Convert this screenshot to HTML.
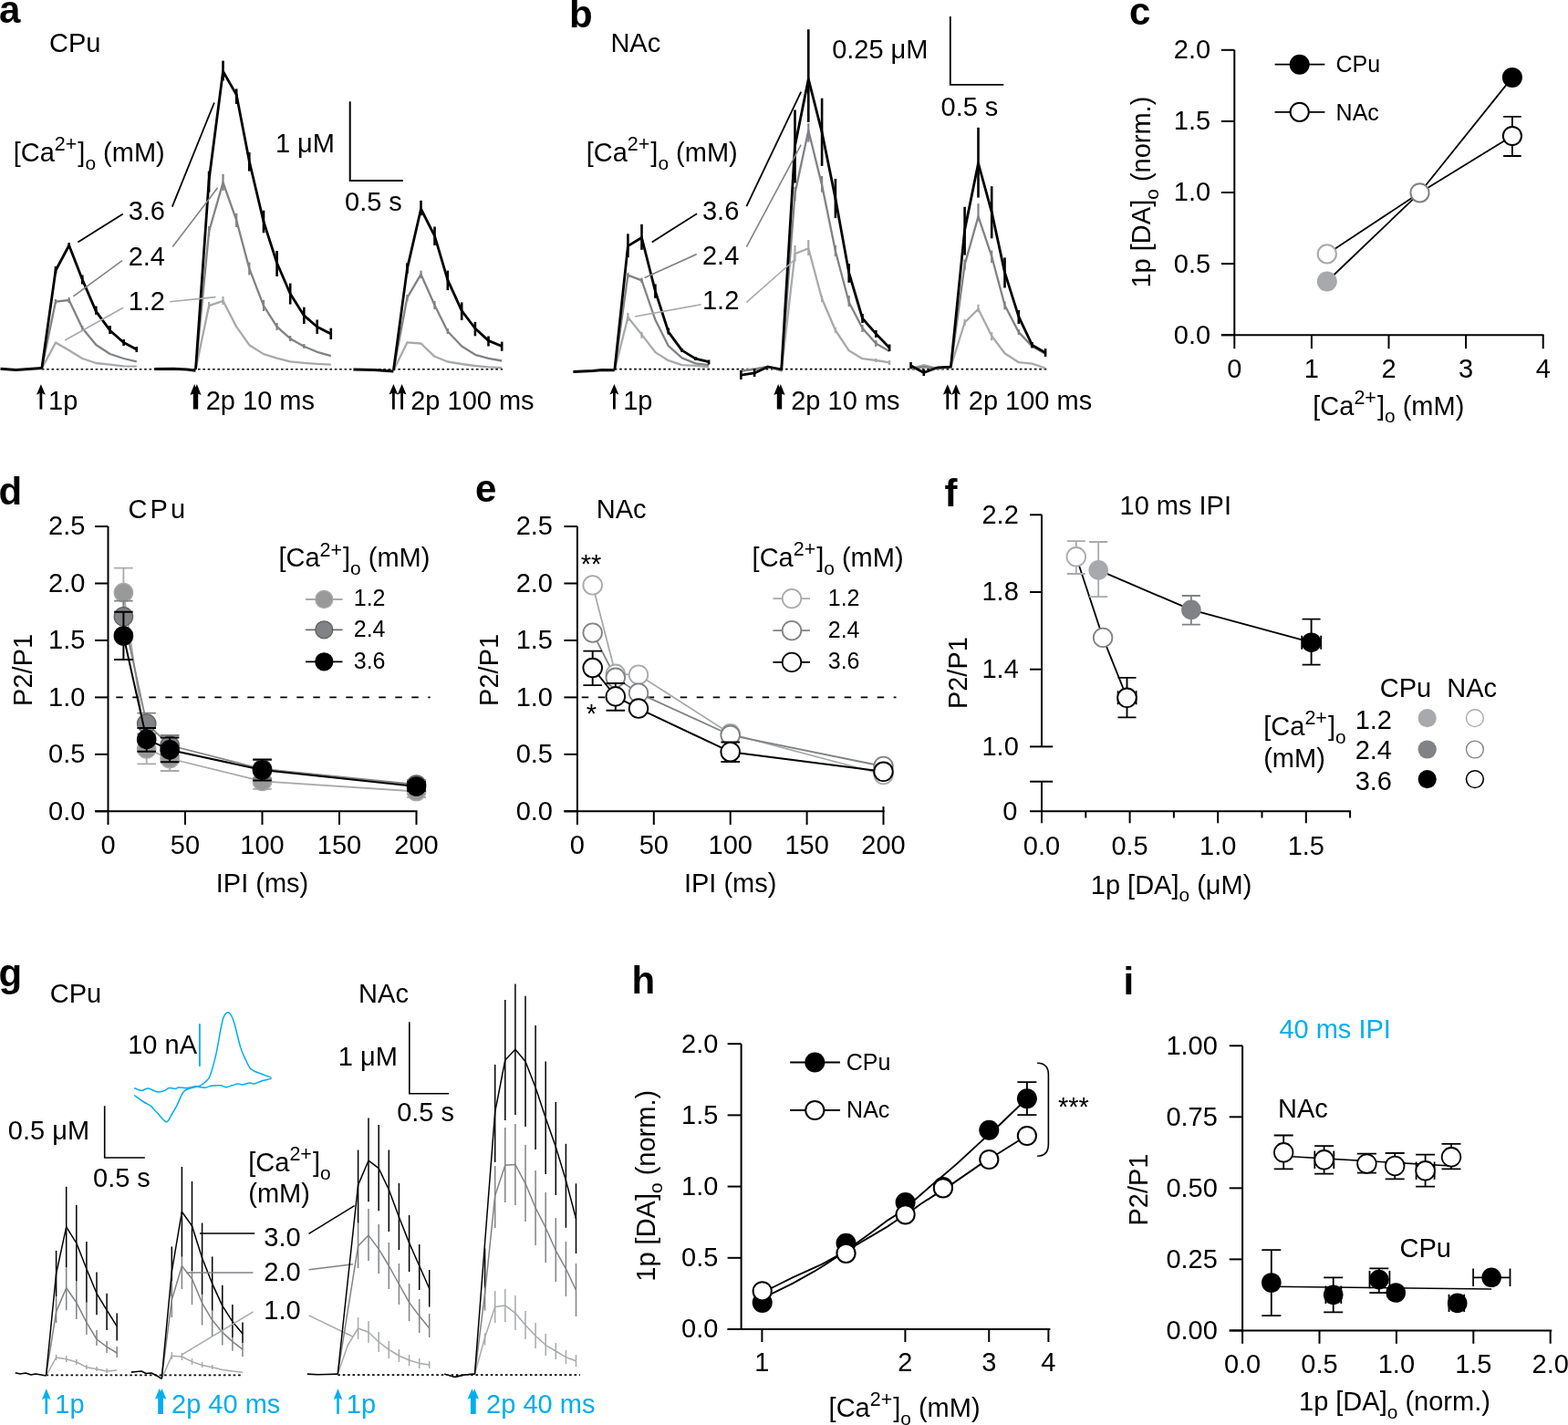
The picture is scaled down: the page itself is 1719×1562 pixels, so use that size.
<!DOCTYPE html>
<html><head><meta charset="utf-8"><title>Figure</title>
<style>
html,body{margin:0;padding:0;background:#fff;}
body{width:1719px;height:1562px;overflow:hidden;}
svg{display:block;}
text{font-family:"Liberation Sans",Arial,Helvetica,sans-serif;}
</style></head><body>
<svg width="1719" height="1562" viewBox="0 0 1719 1562" font-family="Liberation Sans, Arial, sans-serif" font-size="29" fill="#000">
<rect width="1719" height="1562" fill="#fff"/>
<text x="-1" y="24.6" font-size="42" font-weight="bold">a</text>
<text x="54" y="57">CPu</text>
<text x="14.7" y="177.3">[Ca<tspan font-size="21.46" dy="-11.89">2+</tspan><tspan dx="1.02" dy="11.89">]</tspan><tspan font-size="20.88" dy="8.7">o</tspan><tspan dy="-8.7"> (mM)</tspan></text>
<line x1="45.8" y1="404.8" x2="551" y2="404.8" stroke="#000" stroke-width="1.6" stroke-dasharray="2.6 2.75"/>
<polyline points="0.5,404.3 17.5,405.6 45.8,403.6" fill="none" stroke="#000" stroke-width="3" stroke-linejoin="round"/>
<polyline points="45.8,404 61,375.5 75.7,383.9 90.3,393 105.3,398 120.6,399.7 135.6,401.3 149.8,401.7" fill="none" stroke="#a7a9ac" stroke-width="2.3" stroke-linejoin="round"/>
<polyline points="45.8,404 61,330.6 75.7,329 90.3,359.7 105.3,378 120.6,388 135.6,393 149.8,396.3" fill="none" stroke="#808285" stroke-width="2.3" stroke-linejoin="round"/>
<line x1="61" y1="328" x2="61" y2="333" stroke="#808285" stroke-width="2.2"/>
<line x1="75.7" y1="326" x2="75.7" y2="332" stroke="#808285" stroke-width="2.2"/>
<line x1="90.3" y1="357" x2="90.3" y2="362" stroke="#808285" stroke-width="2.2"/>
<polyline points="45.8,404 61,296.5 75.7,269 90.3,306.5 105.3,341.4 120.6,362.2 135.6,375.5 149.8,383" fill="none" stroke="#000" stroke-width="2.8" stroke-linejoin="round"/>
<line x1="61" y1="292" x2="61" y2="300" stroke="#000" stroke-width="2.6"/>
<line x1="75.7" y1="266" x2="75.7" y2="272" stroke="#000" stroke-width="2.6"/>
<line x1="90.3" y1="301.5" x2="90.3" y2="311.5" stroke="#000" stroke-width="2.6"/>
<line x1="105.3" y1="335.6" x2="105.3" y2="344.8" stroke="#000" stroke-width="2.6"/>
<line x1="120.6" y1="357" x2="120.6" y2="366" stroke="#000" stroke-width="2.6"/>
<line x1="135.6" y1="372" x2="135.6" y2="379" stroke="#000" stroke-width="2.6"/>
<line x1="149.8" y1="380" x2="149.8" y2="386" stroke="#000" stroke-width="2.6"/>
<line x1="85.4" y1="265.4" x2="134.8" y2="234.6" stroke="#000" stroke-width="1.8"/>
<line x1="80.4" y1="324.8" x2="134" y2="285.7" stroke="#808285" stroke-width="1.6"/>
<line x1="71.2" y1="373" x2="135.1" y2="337.3" stroke="#a7a9ac" stroke-width="1.6"/>
<text x="181" y="240.8" text-anchor="end">3.6</text>
<text x="181" y="290.7" text-anchor="end">2.4</text>
<text x="181" y="339.8" text-anchor="end">1.2</text>
<polyline points="169.2,404.6 190,404.3 205,405 214.5,406.3" fill="none" stroke="#000" stroke-width="3" stroke-linejoin="round"/>
<polyline points="214.5,405 229.1,335.1 244.5,329.8 259.2,358.2 273.3,378.2 289,388.1 303.6,392.7 318.2,396.3 333.3,397.8 347.7,398.9 362.8,399.7" fill="none" stroke="#a7a9ac" stroke-width="2.3" stroke-linejoin="round"/>
<line x1="229.1" y1="331" x2="229.1" y2="339" stroke="#a7a9ac" stroke-width="2.2"/>
<line x1="244.5" y1="325" x2="244.5" y2="334" stroke="#a7a9ac" stroke-width="2.2"/>
<polyline points="214.5,405 229.1,253.7 244.5,200 259.2,241.4 273.3,294.4 289,335.1 303.6,358.2 318.2,371.2 333.3,379.7 347.7,385.8 362.8,390.1" fill="none" stroke="#808285" stroke-width="2.3" stroke-linejoin="round"/>
<line x1="229.1" y1="248" x2="229.1" y2="259" stroke="#808285" stroke-width="2.2"/>
<line x1="244.5" y1="190.8" x2="244.5" y2="209" stroke="#808285" stroke-width="2.2"/>
<line x1="259.2" y1="233.8" x2="259.2" y2="249" stroke="#808285" stroke-width="2.2"/>
<line x1="273.3" y1="287.5" x2="273.3" y2="301.4" stroke="#808285" stroke-width="2.2"/>
<line x1="289" y1="329" x2="289" y2="341" stroke="#808285" stroke-width="2.2"/>
<line x1="303.6" y1="354" x2="303.6" y2="362" stroke="#808285" stroke-width="2.2"/>
<line x1="318.2" y1="368" x2="318.2" y2="374" stroke="#808285" stroke-width="2.2"/>
<line x1="333.3" y1="377" x2="333.3" y2="382" stroke="#808285" stroke-width="2.2"/>
<polyline points="214.5,405 229.1,197.2 244.5,78.2 259.2,103.8 273.3,176.8 289,243 303.6,288.3 318.2,322 333.3,345.9 347.7,358.2 362.8,365.9" fill="none" stroke="#000" stroke-width="2.8" stroke-linejoin="round"/>
<line x1="229.1" y1="187.6" x2="229.1" y2="210.7" stroke="#000" stroke-width="2.6"/>
<line x1="244.5" y1="66.6" x2="244.5" y2="88.4" stroke="#000" stroke-width="2.6"/>
<line x1="259.2" y1="97.4" x2="259.2" y2="114" stroke="#000" stroke-width="2.6"/>
<line x1="273.3" y1="167" x2="273.3" y2="187.6" stroke="#000" stroke-width="2.6"/>
<line x1="289" y1="230.7" x2="289" y2="255.3" stroke="#000" stroke-width="2.6"/>
<line x1="303.6" y1="275" x2="303.6" y2="303" stroke="#000" stroke-width="2.6"/>
<line x1="318.2" y1="310.6" x2="318.2" y2="333.6" stroke="#000" stroke-width="2.6"/>
<line x1="333.3" y1="336.7" x2="333.3" y2="355" stroke="#000" stroke-width="2.6"/>
<line x1="347.7" y1="350.5" x2="347.7" y2="365.9" stroke="#000" stroke-width="2.6"/>
<line x1="362.8" y1="359.7" x2="362.8" y2="372" stroke="#000" stroke-width="2.6"/>
<line x1="188.8" y1="226.7" x2="234.9" y2="112.5" stroke="#000" stroke-width="1.8"/>
<line x1="189.2" y1="270.6" x2="238.6" y2="205.8" stroke="#808285" stroke-width="1.6"/>
<line x1="186.1" y1="330.8" x2="236.5" y2="325.6" stroke="#a7a9ac" stroke-width="1.6"/>
<polyline points="387.4,405.1 410,405.5 431.4,407" fill="none" stroke="#000" stroke-width="3" stroke-linejoin="round"/>
<polyline points="431.4,406 446.4,375.4 461.5,376.5 476.5,390.8 490.8,396.5 506.2,399 520.9,401 535.5,402.3 550.2,403.1" fill="none" stroke="#a7a9ac" stroke-width="2.3" stroke-linejoin="round"/>
<polyline points="431.4,406 446.4,326.3 461.5,300.7 476.5,334.5 490.8,363.2 506.2,379.5 520.9,388.8 535.5,392.9 550.2,395.5" fill="none" stroke="#808285" stroke-width="2.3" stroke-linejoin="round"/>
<line x1="446.4" y1="323" x2="446.4" y2="330" stroke="#808285" stroke-width="2.2"/>
<line x1="461.5" y1="296.6" x2="461.5" y2="305" stroke="#808285" stroke-width="2.2"/>
<line x1="476.5" y1="330" x2="476.5" y2="339" stroke="#808285" stroke-width="2.2"/>
<line x1="490.8" y1="360" x2="490.8" y2="366" stroke="#808285" stroke-width="2.2"/>
<polyline points="431.4,406 446.4,294.6 461.5,229 476.5,258.7 490.8,306.8 506.2,340.6 520.9,360 535.5,373.4 550.2,379.5" fill="none" stroke="#000" stroke-width="2.8" stroke-linejoin="round"/>
<line x1="446.4" y1="288.4" x2="446.4" y2="299.7" stroke="#000" stroke-width="2.6"/>
<line x1="461.5" y1="219.8" x2="461.5" y2="236.2" stroke="#000" stroke-width="2.6"/>
<line x1="476.5" y1="248.5" x2="476.5" y2="269" stroke="#000" stroke-width="2.6"/>
<line x1="490.8" y1="296.6" x2="490.8" y2="318.1" stroke="#000" stroke-width="2.6"/>
<line x1="506.2" y1="331.4" x2="506.2" y2="350.9" stroke="#000" stroke-width="2.6"/>
<line x1="520.9" y1="352.9" x2="520.9" y2="368.3" stroke="#000" stroke-width="2.6"/>
<line x1="535.5" y1="368.5" x2="535.5" y2="379.5" stroke="#000" stroke-width="2.6"/>
<line x1="550.2" y1="374.6" x2="550.2" y2="384.7" stroke="#000" stroke-width="2.6"/>
<path d="M383.7,111.3V197.9H441.7" fill="none" stroke="#000" stroke-width="2"/>
<text x="367" y="166.8" text-anchor="end">1 μM</text>
<text x="378" y="230.7">0.5 s</text>
<line x1="44.9" y1="429.8" x2="44.9" y2="448.6" stroke="#000" stroke-width="2.8"/>
<path d="M44.9,421.3L49.8,432.8L44.9,430.6L40,432.8Z" fill="#000" stroke="none" stroke-width="0"/>
<text x="53" y="448.5">1p</text>
<path d="M213.2,420.9L208.4,432.9L211.8,431.7L211.8,448.5L217.2,448.5L217.2,431.7L220.6,432.9L215.8,420.9L214.5,424.4L213.2,420.9Z" fill="#000" stroke="none" stroke-width="0"/>
<text x="225.7" y="448.5">2p 10 ms</text>
<line x1="431.4" y1="429.6" x2="431.4" y2="448.7" stroke="#000" stroke-width="2.8"/>
<path d="M431.4,421.1L436.3,432.6L431.4,430.4L426.5,432.6Z" fill="#000" stroke="none" stroke-width="0"/>
<line x1="440.6" y1="429.6" x2="440.6" y2="448.7" stroke="#000" stroke-width="2.8"/>
<path d="M440.6,421.1L445.5,432.6L440.6,430.4L435.7,432.6Z" fill="#000" stroke="none" stroke-width="0"/>
<text x="450.2" y="448.5">2p 100 ms</text>
<text x="624.1" y="30.2" font-size="42" font-weight="bold">b</text>
<text x="669.4" y="57.4">NAc</text>
<text x="642.7" y="177.1">[Ca<tspan font-size="21.46" dy="-11.89">2+</tspan><tspan dx="1.02" dy="11.89">]</tspan><tspan font-size="20.88" dy="8.7">o</tspan><tspan dy="-8.7"> (mM)</tspan></text>
<line x1="673.8" y1="404.6" x2="1147.7" y2="404.6" stroke="#000" stroke-width="1.6" stroke-dasharray="2.6 2.75"/>
<polyline points="628.4,407.5 650,406.5 660,405.5 673.8,405.7" fill="none" stroke="#000" stroke-width="3" stroke-linejoin="round"/>
<polyline points="673.8,405.7 688.4,347.7 703.5,366.6 718.4,386.1 732.8,395.2 747.7,400.1 762.4,400.8 777.1,402.2" fill="none" stroke="#a7a9ac" stroke-width="2.3" stroke-linejoin="round"/>
<line x1="688.4" y1="342.9" x2="688.4" y2="352" stroke="#a7a9ac" stroke-width="2.2"/>
<line x1="703.5" y1="363.8" x2="703.5" y2="370.8" stroke="#a7a9ac" stroke-width="2.2"/>
<polyline points="673.8,405.7 688.4,301.7 703.5,307.3 718.4,350.5 732.8,379.2 747.7,392.4 762.4,398.4 777.1,400.1" fill="none" stroke="#808285" stroke-width="2.3" stroke-linejoin="round"/>
<line x1="688.4" y1="298.9" x2="688.4" y2="304.5" stroke="#808285" stroke-width="2.2"/>
<line x1="703.5" y1="304.5" x2="703.5" y2="310" stroke="#808285" stroke-width="2.2"/>
<polyline points="673.8,405.7 688.4,269.6 703.5,260.5 718.4,319.1 732.8,363.8 747.7,384.1 762.4,393.1 777.1,396.6" fill="none" stroke="#000" stroke-width="2.8" stroke-linejoin="round"/>
<line x1="688.4" y1="256.3" x2="688.4" y2="282.1" stroke="#000" stroke-width="2.6"/>
<line x1="703.5" y1="245.8" x2="703.5" y2="273.8" stroke="#000" stroke-width="2.6"/>
<line x1="718.4" y1="311.5" x2="718.4" y2="326.8" stroke="#000" stroke-width="2.6"/>
<line x1="732.8" y1="359.6" x2="732.8" y2="366.6" stroke="#000" stroke-width="2.6"/>
<line x1="747.7" y1="382" x2="747.7" y2="386" stroke="#000" stroke-width="2.6"/>
<line x1="762.4" y1="391" x2="762.4" y2="395" stroke="#000" stroke-width="2.6"/>
<line x1="777.1" y1="394.5" x2="777.1" y2="399.5" stroke="#000" stroke-width="2.6"/>
<line x1="714.7" y1="265.4" x2="764.1" y2="234.2" stroke="#000" stroke-width="1.8"/>
<line x1="706.6" y1="304.5" x2="763.8" y2="278.6" stroke="#808285" stroke-width="1.6"/>
<line x1="696.1" y1="347" x2="768.7" y2="333.8" stroke="#a7a9ac" stroke-width="1.6"/>
<text x="810.3" y="241" text-anchor="end">3.6</text>
<text x="810.3" y="289.8" text-anchor="end">2.4</text>
<text x="810.3" y="339.4" text-anchor="end">1.2</text>
<polyline points="812.3,406.6 827.1,404.6 841.9,402 856.7,406.6 871.5,278.3 886.3,272.2 901.1,327.5 915.9,362 930.7,384.3 945.5,393.2 960.3,395 975.1,397.4" fill="none" stroke="#a7a9ac" stroke-width="2.3" stroke-linejoin="round"/>
<line x1="871.5" y1="269" x2="871.5" y2="286.8" stroke="#a7a9ac" stroke-width="2.2"/>
<line x1="886.3" y1="263" x2="886.3" y2="280" stroke="#a7a9ac" stroke-width="2.2"/>
<line x1="901.1" y1="324" x2="901.1" y2="331" stroke="#a7a9ac" stroke-width="2.2"/>
<line x1="915.9" y1="359" x2="915.9" y2="365" stroke="#a7a9ac" stroke-width="2.2"/>
<line x1="960.3" y1="393" x2="960.3" y2="397" stroke="#a7a9ac" stroke-width="2.2"/>
<line x1="975.1" y1="395" x2="975.1" y2="400" stroke="#a7a9ac" stroke-width="2.2"/>
<polyline points="812.3,406.6 827.1,404.6 841.9,402 856.7,405 871.5,212 886.3,142.9 901.1,203 915.9,275.2 930.7,331.3 945.5,359.7 960.3,376.6 975.1,385.1" fill="none" stroke="#808285" stroke-width="2.3" stroke-linejoin="round"/>
<line x1="871.5" y1="205" x2="871.5" y2="220" stroke="#808285" stroke-width="2.2"/>
<line x1="886.3" y1="135.2" x2="886.3" y2="155.7" stroke="#808285" stroke-width="2.2"/>
<line x1="901.1" y1="193" x2="901.1" y2="210.7" stroke="#808285" stroke-width="2.2"/>
<line x1="915.9" y1="269" x2="915.9" y2="281" stroke="#808285" stroke-width="2.2"/>
<line x1="930.7" y1="324" x2="930.7" y2="336" stroke="#808285" stroke-width="2.2"/>
<line x1="945.5" y1="356" x2="945.5" y2="364" stroke="#808285" stroke-width="2.2"/>
<line x1="960.3" y1="373" x2="960.3" y2="380" stroke="#808285" stroke-width="2.2"/>
<polyline points="812.3,411.2 827.1,408.9 841.9,402 856.7,405 871.5,160 886.3,86.6 901.1,145 915.9,217.6 930.7,299 945.5,349 960.3,365.9 975.1,381.2" fill="none" stroke="#000" stroke-width="2.8" stroke-linejoin="round"/>
<line x1="812.3" y1="406" x2="812.3" y2="416" stroke="#000" stroke-width="2.6"/>
<line x1="827.1" y1="404" x2="827.1" y2="413" stroke="#000" stroke-width="2.6"/>
<line x1="871.5" y1="120.5" x2="871.5" y2="200.5" stroke="#000" stroke-width="2.6"/>
<line x1="886.3" y1="32.2" x2="886.3" y2="133.9" stroke="#000" stroke-width="2.6"/>
<line x1="901.1" y1="107.7" x2="901.1" y2="181.9" stroke="#000" stroke-width="2.6"/>
<line x1="915.9" y1="196.1" x2="915.9" y2="239.1" stroke="#000" stroke-width="2.6"/>
<line x1="930.7" y1="289" x2="930.7" y2="309.8" stroke="#000" stroke-width="2.6"/>
<line x1="945.5" y1="344" x2="945.5" y2="354" stroke="#000" stroke-width="2.6"/>
<line x1="960.3" y1="362" x2="960.3" y2="370" stroke="#000" stroke-width="2.6"/>
<line x1="975.1" y1="377.5" x2="975.1" y2="385" stroke="#000" stroke-width="2.6"/>
<line x1="818.4" y1="226.1" x2="878.2" y2="100.7" stroke="#000" stroke-width="1.8"/>
<line x1="818.4" y1="270.6" x2="878.2" y2="158.6" stroke="#808285" stroke-width="1.6"/>
<line x1="818.4" y1="331.3" x2="871.4" y2="284.5" stroke="#a7a9ac" stroke-width="1.6"/>
<polyline points="998.5,404 1012.8,400 1028,404 1042.4,402.1 1057.6,353.5 1072.5,338.7 1087.2,368.3 1101.5,387.3 1116.8,397.2 1131.5,398.6 1146.1,403.5" fill="none" stroke="#a7a9ac" stroke-width="2.3" stroke-linejoin="round"/>
<line x1="1057.6" y1="350" x2="1057.6" y2="357" stroke="#a7a9ac" stroke-width="2.2"/>
<line x1="1072.5" y1="333.8" x2="1072.5" y2="342.3" stroke="#a7a9ac" stroke-width="2.2"/>
<line x1="1087.2" y1="364.1" x2="1087.2" y2="373.2" stroke="#a7a9ac" stroke-width="2.2"/>
<polyline points="998.5,404 1012.8,402 1028,404 1042.4,402.1 1057.6,290.1 1072.5,237.3 1087.2,281 1101.5,334.5 1116.8,364.1 1131.5,379.6 1146.1,388" fill="none" stroke="#808285" stroke-width="2.3" stroke-linejoin="round"/>
<line x1="1057.6" y1="284.5" x2="1057.6" y2="295.8" stroke="#808285" stroke-width="2.2"/>
<line x1="1072.5" y1="223.2" x2="1072.5" y2="242.3" stroke="#808285" stroke-width="2.2"/>
<line x1="1087.2" y1="274.6" x2="1087.2" y2="288" stroke="#808285" stroke-width="2.2"/>
<line x1="1101.5" y1="330.3" x2="1101.5" y2="339.4" stroke="#808285" stroke-width="2.2"/>
<line x1="1116.8" y1="361" x2="1116.8" y2="367" stroke="#808285" stroke-width="2.2"/>
<polyline points="998.5,400.7 1012.8,408.5 1028,402.8 1042.4,402.1 1057.6,252.1 1072.5,179 1087.2,232.4 1101.5,298.6 1116.8,347.2 1131.5,378.2 1146.1,386.6" fill="none" stroke="#000" stroke-width="2.8" stroke-linejoin="round"/>
<line x1="998.5" y1="397" x2="998.5" y2="404" stroke="#000" stroke-width="2.6"/>
<line x1="1012.8" y1="405" x2="1012.8" y2="412" stroke="#000" stroke-width="2.6"/>
<line x1="1057.6" y1="226.8" x2="1057.6" y2="279.6" stroke="#000" stroke-width="2.6"/>
<line x1="1072.5" y1="139.8" x2="1072.5" y2="216.6" stroke="#000" stroke-width="2.6"/>
<line x1="1087.2" y1="204.2" x2="1087.2" y2="261.3" stroke="#000" stroke-width="2.6"/>
<line x1="1101.5" y1="282.4" x2="1101.5" y2="315.5" stroke="#000" stroke-width="2.6"/>
<line x1="1116.8" y1="340" x2="1116.8" y2="355" stroke="#000" stroke-width="2.6"/>
<line x1="1131.5" y1="375" x2="1131.5" y2="381.5" stroke="#000" stroke-width="2.6"/>
<line x1="1146.1" y1="382" x2="1146.1" y2="391" stroke="#000" stroke-width="2.6"/>
<path d="M1041.8,18.1V92.9H1100.3" fill="none" stroke="#000" stroke-width="1.8"/>
<text x="1017.5" y="64" text-anchor="end">0.25 μM</text>
<text x="1031.5" y="127.2">0.5 s</text>
<line x1="673.4" y1="429.5" x2="673.4" y2="448.5" stroke="#000" stroke-width="2.8"/>
<path d="M673.4,421L678.3,432.5L673.4,430.3L668.5,432.5Z" fill="#000" stroke="none" stroke-width="0"/>
<text x="683.2" y="448.5">1p</text>
<path d="M853.2,420.9L848.4,432.9L851.8,431.7L851.8,448.5L857.2,448.5L857.2,431.7L860.6,432.9L855.8,420.9L854.5,424.4L853.2,420.9Z" fill="#000" stroke="none" stroke-width="0"/>
<text x="867.2" y="448.5">2p 10 ms</text>
<line x1="1038.8" y1="429.8" x2="1038.8" y2="448.7" stroke="#000" stroke-width="2.8"/>
<path d="M1038.8,421.3L1043.7,432.8L1038.8,430.6L1033.9,432.8Z" fill="#000" stroke="none" stroke-width="0"/>
<line x1="1048.1" y1="429.8" x2="1048.1" y2="448.7" stroke="#000" stroke-width="2.8"/>
<path d="M1048.1,421.3L1053,432.8L1048.1,430.6L1043.2,432.8Z" fill="#000" stroke="none" stroke-width="0"/>
<text x="1061.8" y="448.5">2p 100 ms</text>
<text x="1238" y="26.8" font-size="42" font-weight="bold">c</text>
<path d="M1338.9,367.2H1692.5" fill="none" stroke="#000" stroke-width="2"/>
<path d="M1353.3,367.2V54.8" fill="none" stroke="#000" stroke-width="2"/>
<line x1="1338.9" y1="367.2" x2="1353.3" y2="367.2" stroke="#000" stroke-width="2"/>
<text x="1327.2" y="376.6" text-anchor="end">0.0</text>
<line x1="1338.9" y1="289.1" x2="1353.3" y2="289.1" stroke="#000" stroke-width="2"/>
<text x="1327.2" y="298.5" text-anchor="end">0.5</text>
<line x1="1338.9" y1="211" x2="1353.3" y2="211" stroke="#000" stroke-width="2"/>
<text x="1327.2" y="220.4" text-anchor="end">1.0</text>
<line x1="1338.9" y1="132.9" x2="1353.3" y2="132.9" stroke="#000" stroke-width="2"/>
<text x="1327.2" y="142.3" text-anchor="end">1.5</text>
<line x1="1338.9" y1="54.8" x2="1353.3" y2="54.8" stroke="#000" stroke-width="2"/>
<text x="1327.2" y="64.2" text-anchor="end">2.0</text>
<line x1="1353.3" y1="367.2" x2="1353.3" y2="382.2" stroke="#000" stroke-width="2"/>
<text x="1353.3" y="413.8" text-anchor="middle">0</text>
<line x1="1437.9" y1="367.2" x2="1437.9" y2="382.2" stroke="#000" stroke-width="2"/>
<text x="1437.9" y="413.8" text-anchor="middle">1</text>
<line x1="1522.5" y1="367.2" x2="1522.5" y2="382.2" stroke="#000" stroke-width="2"/>
<text x="1522.5" y="413.8" text-anchor="middle">2</text>
<line x1="1607.1" y1="367.2" x2="1607.1" y2="382.2" stroke="#000" stroke-width="2"/>
<text x="1607.1" y="413.8" text-anchor="middle">3</text>
<line x1="1691.7" y1="367.2" x2="1691.7" y2="382.2" stroke="#000" stroke-width="2"/>
<text x="1691.7" y="413.8" text-anchor="middle">4</text>
<text x="1439.3" y="454.5">[Ca<tspan font-size="21.46" dy="-11.89">2+</tspan><tspan dx="1.02" dy="11.89">]</tspan><tspan font-size="20.88" dy="8.7">o</tspan><tspan dy="-8.7"> (mM)</tspan></text>
<text x="0" y="0" text-anchor="middle" transform="translate(1261,210.6) rotate(-90)">1p [DA]<tspan font-size="20.88" dy="8.7">o</tspan><tspan dy="-8.7"> (norm.)</tspan></text>
<polyline points="1454.8,308.5 1556.5,211.3 1657.9,84.9" fill="none" stroke="#000" stroke-width="1.8" stroke-linejoin="round"/>
<polyline points="1454.8,278.4 1556.5,211.3 1657.9,149" fill="none" stroke="#000" stroke-width="1.8" stroke-linejoin="round"/>
<path d="M1657.9,127.9V171M1648.15,127.9H1667.65M1648.15,171H1667.65" fill="none" stroke="#000" stroke-width="1.8"/>
<circle cx="1454.8" cy="308.5" r="11" fill="#a7a9ac"/>
<circle cx="1657.9" cy="84.9" r="11" fill="#000"/>
<circle cx="1454.8" cy="278.4" r="10.1" fill="#fff" stroke="#a7a9ac" stroke-width="2"/>
<circle cx="1556.5" cy="211.3" r="10.1" fill="#fff" stroke="#808285" stroke-width="2"/>
<circle cx="1657.9" cy="149" r="10.1" fill="#fff" stroke="#000" stroke-width="2"/>
<line x1="1397.6" y1="70.7" x2="1452.4" y2="70.7" stroke="#000" stroke-width="1.8"/>
<circle cx="1424.7" cy="70.7" r="11" fill="#000"/>
<text x="1464.5" y="78.5" font-size="25">CPu</text>
<line x1="1397.6" y1="122.8" x2="1452.4" y2="122.8" stroke="#000" stroke-width="1.8"/>
<circle cx="1424.7" cy="122.8" r="10.1" fill="#fff" stroke="#000" stroke-width="2"/>
<text x="1464.6" y="131.8" font-size="25">NAc</text>
<text x="-1.5" y="552.7" font-size="42" font-weight="bold">d</text>
<text x="140.6" y="567.6" textLength="62.5" lengthAdjust="spacing">CPu</text>
<path d="M104,889.3H457.5" fill="none" stroke="#000" stroke-width="2"/>
<path d="M118.5,889.3V577.05" fill="none" stroke="#000" stroke-width="2"/>
<line x1="104" y1="889.3" x2="118.5" y2="889.3" stroke="#000" stroke-width="2"/>
<text x="93.4" y="898.7" text-anchor="end">0.0</text>
<line x1="104" y1="826.85" x2="118.5" y2="826.85" stroke="#000" stroke-width="2"/>
<text x="93.4" y="836.25" text-anchor="end">0.5</text>
<line x1="104" y1="764.4" x2="118.5" y2="764.4" stroke="#000" stroke-width="2"/>
<text x="93.4" y="773.8" text-anchor="end">1.0</text>
<line x1="104" y1="701.95" x2="118.5" y2="701.95" stroke="#000" stroke-width="2"/>
<text x="93.4" y="711.35" text-anchor="end">1.5</text>
<line x1="104" y1="639.5" x2="118.5" y2="639.5" stroke="#000" stroke-width="2"/>
<text x="93.4" y="648.9" text-anchor="end">2.0</text>
<line x1="104" y1="577.05" x2="118.5" y2="577.05" stroke="#000" stroke-width="2"/>
<text x="93.4" y="586.45" text-anchor="end">2.5</text>
<line x1="118.5" y1="889.3" x2="118.5" y2="904" stroke="#000" stroke-width="2"/>
<text x="118.5" y="936.4" text-anchor="middle">0</text>
<line x1="203" y1="889.3" x2="203" y2="904" stroke="#000" stroke-width="2"/>
<text x="203" y="936.4" text-anchor="middle">50</text>
<line x1="287.5" y1="889.3" x2="287.5" y2="904" stroke="#000" stroke-width="2"/>
<text x="287.5" y="936.4" text-anchor="middle">100</text>
<line x1="372" y1="889.3" x2="372" y2="904" stroke="#000" stroke-width="2"/>
<text x="372" y="936.4" text-anchor="middle">150</text>
<line x1="456.5" y1="889.3" x2="456.5" y2="904" stroke="#000" stroke-width="2"/>
<text x="456.5" y="936.4" text-anchor="middle">200</text>
<text x="287.5" y="977.9" text-anchor="middle">IPI (ms)</text>
<text x="0" y="0" text-anchor="middle" transform="translate(34.8,734.4) rotate(-90)">P2/P1</text>
<line x1="127.3" y1="764.4" x2="471.7" y2="764.4" stroke="#000" stroke-width="1.8" stroke-dasharray="7.5 10.5"/>
<path d="M135.4,622.7V676.5M125.1,622.7H145.7M125.1,676.5H145.7" fill="none" stroke="#a7a9ac" stroke-width="1.8"/>
<path d="M160.7,804.5V837.3M150.4,804.5H171M150.4,837.3H171" fill="none" stroke="#a7a9ac" stroke-width="1.8"/>
<path d="M186.1,825.6V845M175.8,825.6H196.4M175.8,845H196.4" fill="none" stroke="#a7a9ac" stroke-width="1.8"/>
<path d="M287.5,846.8V864.8M277.2,846.8H297.8M277.2,864.8H297.8" fill="none" stroke="#a7a9ac" stroke-width="1.8"/>
<path d="M456.5,861V874M446.2,861H466.8M446.2,874H466.8" fill="none" stroke="#a7a9ac" stroke-width="1.8"/>
<polyline points="135.4,649.6 160.7,820.9 186.1,831.5 287.5,856.4 456.5,867.5" fill="none" stroke="#a7a9ac" stroke-width="1.8" stroke-linejoin="round"/>
<circle cx="135.4" cy="649.6" r="10.2" fill="#999" stroke="#a7a9ac" stroke-width="1.3"/>
<circle cx="160.7" cy="820.9" r="10.2" fill="#999" stroke="#a7a9ac" stroke-width="1.3"/>
<circle cx="186.1" cy="831.5" r="10.2" fill="#999" stroke="#a7a9ac" stroke-width="1.3"/>
<circle cx="287.5" cy="856.4" r="10.2" fill="#999" stroke="#a7a9ac" stroke-width="1.3"/>
<circle cx="456.5" cy="867.5" r="10.2" fill="#999" stroke="#a7a9ac" stroke-width="1.3"/>
<path d="M135.4,658.6V693.2M125.1,658.6H145.7M125.1,693.2H145.7" fill="none" stroke="#808285" stroke-width="1.8"/>
<path d="M160.7,781.6V804.6M150.4,781.6H171M150.4,804.6H171" fill="none" stroke="#808285" stroke-width="1.8"/>
<path d="M186.1,806V828M175.8,806H196.4M175.8,828H196.4" fill="none" stroke="#808285" stroke-width="1.8"/>
<path d="M287.5,833V853M277.2,833H297.8M277.2,853H297.8" fill="none" stroke="#808285" stroke-width="1.8"/>
<path d="M456.5,855V865M446.2,855H466.8M446.2,865H466.8" fill="none" stroke="#808285" stroke-width="1.8"/>
<polyline points="135.4,675.9 160.7,793.1 186.1,817 287.5,843 456.5,860" fill="none" stroke="#808285" stroke-width="1.8" stroke-linejoin="round"/>
<circle cx="135.4" cy="675.9" r="10.2" fill="#808285" stroke="#5f6160" stroke-width="1.3"/>
<circle cx="160.7" cy="793.1" r="10.2" fill="#808285" stroke="#5f6160" stroke-width="1.3"/>
<circle cx="186.1" cy="817" r="10.2" fill="#808285" stroke="#5f6160" stroke-width="1.3"/>
<circle cx="287.5" cy="843" r="10.2" fill="#808285" stroke="#5f6160" stroke-width="1.3"/>
<circle cx="456.5" cy="860" r="10.2" fill="#808285" stroke="#5f6160" stroke-width="1.3"/>
<path d="M135.4,670.7V723M125.1,670.7H145.7M125.1,723H145.7" fill="none" stroke="#000" stroke-width="2"/>
<path d="M160.7,797.9V823.8M150.4,797.9H171M150.4,823.8H171" fill="none" stroke="#000" stroke-width="2"/>
<path d="M186.1,808.5V835.3M175.8,808.5H196.4M175.8,835.3H196.4" fill="none" stroke="#000" stroke-width="2"/>
<path d="M287.5,832.5V855.5M277.2,832.5H297.8M277.2,855.5H297.8" fill="none" stroke="#000" stroke-width="2"/>
<path d="M456.5,857V867M446.2,857H466.8M446.2,867H466.8" fill="none" stroke="#000" stroke-width="2"/>
<polyline points="135.4,697 160.7,810.4 186.1,821.9 287.5,844 456.5,862" fill="none" stroke="#000" stroke-width="2" stroke-linejoin="round"/>
<circle cx="135.4" cy="697" r="10.8" fill="#000"/>
<circle cx="160.7" cy="810.4" r="10.8" fill="#000"/>
<circle cx="186.1" cy="821.9" r="10.8" fill="#000"/>
<circle cx="287.5" cy="844" r="10.8" fill="#000"/>
<circle cx="456.5" cy="862" r="10.8" fill="#000"/>
<text x="305.4" y="621.4">[Ca<tspan font-size="21.46" dy="-11.89">2+</tspan><tspan dx="1.02" dy="11.89">]</tspan><tspan font-size="20.88" dy="8.7">o</tspan><tspan dy="-8.7"> (mM)</tspan></text>
<line x1="335" y1="657" x2="375.5" y2="657" stroke="#a7a9ac" stroke-width="1.8"/>
<circle cx="355.3" cy="657" r="9.5" fill="#999" stroke="#a7a9ac" stroke-width="1.3"/>
<text x="422.5" y="664.4" text-anchor="end" font-size="25">1.2</text>
<line x1="335" y1="690.3" x2="375.5" y2="690.3" stroke="#6d6e70" stroke-width="1.8"/>
<circle cx="355.3" cy="690.3" r="9.5" fill="#808285" stroke="#5f6160" stroke-width="1.3"/>
<text x="422.5" y="697.7" text-anchor="end" font-size="25">2.4</text>
<line x1="335" y1="725.3" x2="375.5" y2="725.3" stroke="#000" stroke-width="1.8"/>
<circle cx="355.3" cy="725.3" r="9.5" fill="#000" stroke="#000" stroke-width="1.3"/>
<text x="422.5" y="732.7" text-anchor="end" font-size="25">3.6</text>
<text x="521" y="550.3" font-size="42" font-weight="bold">e</text>
<text x="653.8" y="567.6">NAc</text>
<path d="M618.4,889.3H969.5" fill="none" stroke="#000" stroke-width="2"/>
<path d="M632.9,889.3V577.05" fill="none" stroke="#000" stroke-width="2"/>
<line x1="618.4" y1="889.3" x2="632.9" y2="889.3" stroke="#000" stroke-width="2"/>
<text x="606" y="898.7" text-anchor="end">0.0</text>
<line x1="618.4" y1="826.85" x2="632.9" y2="826.85" stroke="#000" stroke-width="2"/>
<text x="606" y="836.25" text-anchor="end">0.5</text>
<line x1="618.4" y1="764.4" x2="632.9" y2="764.4" stroke="#000" stroke-width="2"/>
<text x="606" y="773.8" text-anchor="end">1.0</text>
<line x1="618.4" y1="701.95" x2="632.9" y2="701.95" stroke="#000" stroke-width="2"/>
<text x="606" y="711.35" text-anchor="end">1.5</text>
<line x1="618.4" y1="639.5" x2="632.9" y2="639.5" stroke="#000" stroke-width="2"/>
<text x="606" y="648.9" text-anchor="end">2.0</text>
<line x1="618.4" y1="577.05" x2="632.9" y2="577.05" stroke="#000" stroke-width="2"/>
<text x="606" y="586.45" text-anchor="end">2.5</text>
<line x1="632.9" y1="889.3" x2="632.9" y2="904" stroke="#000" stroke-width="2"/>
<text x="632.9" y="936.4" text-anchor="middle">0</text>
<line x1="716.8" y1="889.3" x2="716.8" y2="904" stroke="#000" stroke-width="2"/>
<text x="716.8" y="936.4" text-anchor="middle">50</text>
<line x1="800.7" y1="889.3" x2="800.7" y2="904" stroke="#000" stroke-width="2"/>
<text x="800.7" y="936.4" text-anchor="middle">100</text>
<line x1="884.6" y1="889.3" x2="884.6" y2="904" stroke="#000" stroke-width="2"/>
<text x="884.6" y="936.4" text-anchor="middle">150</text>
<line x1="968.5" y1="889.3" x2="968.5" y2="904" stroke="#000" stroke-width="2"/>
<text x="968.5" y="936.4" text-anchor="middle">200</text>
<text x="800.7" y="977.9" text-anchor="middle">IPI (ms)</text>
<line x1="968.5" y1="884" x2="968.5" y2="890" stroke="#000" stroke-width="2"/>
<text x="0" y="0" text-anchor="middle" transform="translate(545.8,734.4) rotate(-90)">P2/P1</text>
<line x1="637.7" y1="764.4" x2="982.5" y2="764.4" stroke="#000" stroke-width="1.8" stroke-dasharray="7.5 10.5"/>
<polyline points="649.7,641.4 674.8,738.8 700,739.7 800.7,804.3 968.5,849" fill="none" stroke="#a7a9ac" stroke-width="1.8" stroke-linejoin="round"/>
<polyline points="649.7,693.6 674.8,742.8 700,759.7 800.7,805.8 968.5,840" fill="none" stroke="#808285" stroke-width="1.8" stroke-linejoin="round"/>
<polyline points="649.7,732 674.8,763.4 700,776.6 800.7,824.2 968.5,845.8" fill="none" stroke="#000" stroke-width="1.9" stroke-linejoin="round"/>
<circle cx="649.7" cy="641.4" r="10.3" fill="#fff" stroke="#a7a9ac" stroke-width="1.8"/>
<circle cx="674.8" cy="738.8" r="10.3" fill="#fff" stroke="#a7a9ac" stroke-width="1.8"/>
<circle cx="700" cy="739.7" r="10.3" fill="#fff" stroke="#a7a9ac" stroke-width="1.8"/>
<circle cx="800.7" cy="804.3" r="10.3" fill="#fff" stroke="#a7a9ac" stroke-width="1.8"/>
<circle cx="968.5" cy="849" r="10.3" fill="#fff" stroke="#a7a9ac" stroke-width="1.8"/>
<circle cx="649.7" cy="693.6" r="10.3" fill="#fff" stroke="#808285" stroke-width="1.8"/>
<circle cx="674.8" cy="742.8" r="10.3" fill="#fff" stroke="#808285" stroke-width="1.8"/>
<circle cx="700" cy="759.7" r="10.3" fill="#fff" stroke="#808285" stroke-width="1.8"/>
<circle cx="800.7" cy="805.8" r="10.3" fill="#fff" stroke="#808285" stroke-width="1.8"/>
<circle cx="968.5" cy="840" r="10.3" fill="#fff" stroke="#808285" stroke-width="1.8"/>
<path d="M649.7,713.6V751.1M639.4,713.6H660M639.4,751.1H660" fill="none" stroke="#000" stroke-width="1.9"/>
<path d="M674.8,749V778.8M664.5,749H685.1M664.5,778.8H685.1" fill="none" stroke="#000" stroke-width="1.9"/>
<path d="M800.7,813.5V835M790.4,813.5H811M790.4,835H811" fill="none" stroke="#000" stroke-width="1.9"/>
<circle cx="649.7" cy="732" r="10.3" fill="#fff" stroke="#000" stroke-width="1.9"/>
<circle cx="674.8" cy="763.4" r="10.3" fill="#fff" stroke="#000" stroke-width="1.9"/>
<circle cx="700" cy="776.6" r="10.3" fill="#fff" stroke="#000" stroke-width="1.9"/>
<circle cx="800.7" cy="824.2" r="10.3" fill="#fff" stroke="#000" stroke-width="1.9"/>
<circle cx="968.5" cy="845.8" r="10.3" fill="#fff" stroke="#000" stroke-width="1.9"/>
<text x="648" y="628" text-anchor="middle">**</text>
<text x="648.3" y="791.8" text-anchor="middle">*</text>
<text x="824.6" y="621">[Ca<tspan font-size="21.46" dy="-11.89">2+</tspan><tspan dx="1.02" dy="11.89">]</tspan><tspan font-size="20.88" dy="8.7">o</tspan><tspan dy="-8.7"> (mM)</tspan></text>
<line x1="847.4" y1="656.1" x2="888" y2="656.1" stroke="#a7a9ac" stroke-width="1.8"/>
<circle cx="868" cy="656.1" r="10.3" fill="#fff" stroke="#a7a9ac" stroke-width="1.8"/>
<text x="942.5" y="663.5" text-anchor="end" font-size="25">1.2</text>
<line x1="847.4" y1="691.2" x2="888" y2="691.2" stroke="#808285" stroke-width="1.8"/>
<circle cx="868" cy="691.2" r="10.3" fill="#fff" stroke="#808285" stroke-width="1.8"/>
<text x="942.5" y="698.6" text-anchor="end" font-size="25">2.4</text>
<line x1="847.4" y1="725.9" x2="888" y2="725.9" stroke="#000" stroke-width="1.8"/>
<circle cx="868" cy="725.9" r="10.3" fill="#fff" stroke="#000" stroke-width="1.8"/>
<text x="942.5" y="733.3" text-anchor="end" font-size="25">3.6</text>
<text x="1035.5" y="554.6" font-size="42" font-weight="bold">f</text>
<text x="1227.5" y="563.9">10 ms IPI</text>
<path d="M1142,564.3V818.4" fill="none" stroke="#000" stroke-width="2"/>
<path d="M1142,856.7V889.3" fill="none" stroke="#000" stroke-width="2"/>
<line x1="1129" y1="564.3" x2="1142" y2="564.3" stroke="#000" stroke-width="2"/>
<text x="1116.8" y="573.7" text-anchor="end">2.2</text>
<line x1="1129" y1="649" x2="1142" y2="649" stroke="#000" stroke-width="2"/>
<text x="1116.8" y="658.4" text-anchor="end">1.8</text>
<line x1="1129" y1="733.7" x2="1142" y2="733.7" stroke="#000" stroke-width="2"/>
<text x="1116.8" y="743.1" text-anchor="end">1.4</text>
<line x1="1129" y1="818.4" x2="1154.2" y2="818.4" stroke="#000" stroke-width="2"/>
<text x="1116.8" y="827.8" text-anchor="end">1.0</text>
<line x1="1129" y1="856.7" x2="1154.2" y2="856.7" stroke="#000" stroke-width="2"/>
<path d="M1129,889.3H1481" fill="none" stroke="#000" stroke-width="2"/>
<text x="1115.5" y="898.7" text-anchor="end">0</text>
<line x1="1142" y1="889.3" x2="1142" y2="902.3" stroke="#000" stroke-width="2"/>
<text x="1142" y="936.8" text-anchor="middle">0.0</text>
<line x1="1238.6" y1="889.3" x2="1238.6" y2="902.3" stroke="#000" stroke-width="2"/>
<text x="1238.6" y="936.8" text-anchor="middle">0.5</text>
<line x1="1335.2" y1="889.3" x2="1335.2" y2="902.3" stroke="#000" stroke-width="2"/>
<text x="1335.2" y="936.8" text-anchor="middle">1.0</text>
<line x1="1431.8" y1="889.3" x2="1431.8" y2="902.3" stroke="#000" stroke-width="2"/>
<text x="1431.8" y="936.8" text-anchor="middle">1.5</text>
<line x1="1190.3" y1="889.3" x2="1190.3" y2="896.5" stroke="#000" stroke-width="2"/>
<line x1="1286.9" y1="889.3" x2="1286.9" y2="896.5" stroke="#000" stroke-width="2"/>
<line x1="1383.5" y1="889.3" x2="1383.5" y2="896.5" stroke="#000" stroke-width="2"/>
<line x1="1480.1" y1="889.3" x2="1480.1" y2="896.5" stroke="#000" stroke-width="2"/>
<text x="1195.8" y="979.5">1p [DA]<tspan font-size="20.88" dy="8.7">o</tspan><tspan dy="-8.7"> (μM)</tspan></text>
<text x="0" y="0" text-anchor="middle" transform="translate(1059.5,737.6) rotate(-90)">P2/P1</text>
<polyline points="1204.2,624.9 1305.9,668.4 1437.6,704.2" fill="none" stroke="#000" stroke-width="1.8" stroke-linejoin="round"/>
<polyline points="1179.8,610.3 1209.1,698.9 1235.5,764.8" fill="none" stroke="#000" stroke-width="1.8" stroke-linejoin="round"/>
<path d="M1204.2,594V654.2M1194.2,594H1214.2M1194.2,654.2H1214.2" fill="none" stroke="#a7a9ac" stroke-width="1.8"/>
<path d="M1305.9,653V684.7M1295.9,653H1315.9M1295.9,684.7H1315.9" fill="none" stroke="#808285" stroke-width="1.8"/>
<path d="M1437.6,678.6V728.6M1427.6,678.6H1447.6M1427.6,728.6H1447.6" fill="none" stroke="#000" stroke-width="1.9"/>
<path d="M1427.2,704.2H1448.2M1427.2,696.7V711.7M1448.2,696.7V711.7" fill="none" stroke="#000" stroke-width="1.8"/>
<path d="M1179.8,593.2V629M1169.8,593.2H1189.8M1169.8,629H1189.8" fill="none" stroke="#a7a9ac" stroke-width="1.8"/>
<path d="M1235.5,742.9V786.4M1225.5,742.9H1245.5M1225.5,786.4H1245.5" fill="none" stroke="#000" stroke-width="1.9"/>
<path d="M1225.6,764.8H1245.6M1225.6,757.3V772.3M1245.6,757.3V772.3" fill="none" stroke="#000" stroke-width="1.8"/>
<circle cx="1204.2" cy="624.9" r="10.8" fill="#a7a9ac"/>
<circle cx="1305.9" cy="668.4" r="10.8" fill="#808285"/>
<circle cx="1437.6" cy="704.2" r="10.8" fill="#000"/>
<circle cx="1179.8" cy="610.3" r="10.3" fill="#fff" stroke="#a7a9ac" stroke-width="1.8"/>
<circle cx="1209.1" cy="698.9" r="10.3" fill="#fff" stroke="#808285" stroke-width="1.8"/>
<circle cx="1235.5" cy="764.8" r="10.3" fill="#fff" stroke="#000" stroke-width="1.9"/>
<text x="1512.7" y="764">CPu</text>
<text x="1586.3" y="764">NAc</text>
<text x="1385.3" y="806.3">[Ca<tspan font-size="21.46" dy="-11.89">2+</tspan><tspan dx="1.02" dy="11.89">]</tspan><tspan font-size="20.88" dy="8.7">o</tspan></text>
<text x="1385.2" y="841.3">(mM)</text>
<text x="1526" y="798.6" text-anchor="end">1.2</text>
<circle cx="1564.7" cy="787.2" r="10.1" fill="#a7a9ac"/>
<circle cx="1616.9" cy="787.2" r="9.4" fill="#fff" stroke="#a7a9ac" stroke-width="1.4"/>
<text x="1526" y="832.3" text-anchor="end">2.4</text>
<circle cx="1564.7" cy="821.5" r="10.1" fill="#808285"/>
<circle cx="1616.9" cy="821.5" r="9.4" fill="#fff" stroke="#808285" stroke-width="1.4"/>
<text x="1526" y="865.7" text-anchor="end">3.6</text>
<circle cx="1564.7" cy="854.1" r="10.1" fill="#000"/>
<circle cx="1616.9" cy="854.1" r="9.4" fill="#fff" stroke="#000" stroke-width="1.6"/>
<text x="-1.5" y="1081" font-size="42" font-weight="bold">g</text>
<text x="54.8" y="1098.5">CPu</text>
<text x="393.1" y="1098.5">NAc</text>
<text x="216" y="1154.9" text-anchor="end">10 nA</text>
<line x1="218.9" y1="1122.2" x2="218.9" y2="1168.9" stroke="#00aeef" stroke-width="1.9"/>
<path d="M147,1200.5C148.78,1201.75 154.68,1206.05 157.7,1208C160.72,1209.95 162.62,1210.18 165.1,1212.2C167.58,1214.22 169.73,1217.17 172.6,1220.1C175.47,1223.03 179.73,1229.48 182.3,1229.8C184.87,1230.12 186.05,1225.02 188,1222C189.95,1218.98 191.92,1215.75 194,1211.7C196.08,1207.65 198.33,1200.73 200.5,1197.7C202.67,1194.67 203.9,1194.73 207,1193.5C210.1,1192.27 215.93,1191.72 219.1,1190.3C222.27,1188.88 224.13,1186.87 226,1185C227.87,1183.13 228.5,1183.97 230.3,1179.1C232.1,1174.23 234.85,1164.32 236.8,1155.8C238.75,1147.28 240.6,1134.82 242,1128C243.4,1121.18 243.9,1117.93 245.2,1114.9C246.5,1111.87 248.33,1109.95 249.8,1109.8C251.27,1109.65 252.75,1111.75 254,1114C255.25,1116.25 255.67,1117.57 257.3,1123.3C258.93,1129.03 261.85,1142.12 263.8,1148.4C265.75,1154.68 267.3,1157.28 269,1161C270.7,1164.72 272.23,1168.45 274,1170.7C275.77,1172.95 277.27,1173.33 279.6,1174.5C281.93,1175.67 285.05,1176.47 288,1177.7C290.95,1178.93 297.45,1180.73 297.3,1181.9C297.15,1183.07 290.2,1183.68 287.1,1184.7C284,1185.72 280.88,1187.62 278.7,1188C276.52,1188.38 276.18,1186.85 274,1187C271.82,1187.15 267.77,1188.73 265.6,1188.9C263.43,1189.07 262.85,1187.85 261,1188C259.15,1188.15 256.67,1189.18 254.5,1189.8C252.33,1190.42 250.17,1191.7 248,1191.7C245.83,1191.7 244.3,1190.03 241.5,1189.8C238.7,1189.57 233.85,1189.92 231.2,1190.3C228.55,1190.68 227.62,1191.87 225.6,1192.1C223.58,1192.33 220.95,1191.93 219.1,1191.7C217.25,1191.47 216.82,1190.55 214.5,1190.7C212.18,1190.85 208.32,1192.37 205.2,1192.6C202.08,1192.83 197.98,1191.95 195.8,1192.1C193.62,1192.25 193.8,1193.42 192.1,1193.5C190.4,1193.58 187.77,1192.2 185.6,1192.6C183.43,1193 181.35,1195.2 179.1,1195.9C176.85,1196.6 174.9,1197.27 172.1,1196.8C169.3,1196.33 165.08,1193.33 162.3,1193.1C159.52,1192.87 157.95,1195.48 155.4,1195.4C152.85,1195.32 148.4,1193.07 147,1192.6" fill="none" stroke="#00aeef" stroke-width="1.5" stroke-linejoin="round"/>
<path d="M114.7,1212.2V1269H158.8" fill="none" stroke="#000" stroke-width="1.6"/>
<text x="8.8" y="1249">0.5 μM</text>
<text x="102" y="1300.5">0.5 s</text>
<path d="M448.8,1120.2V1198.7H492.2" fill="none" stroke="#000" stroke-width="1.6"/>
<text x="435.8" y="1168" text-anchor="end">1 μM</text>
<text x="435.2" y="1228.8">0.5 s</text>
<line x1="50.5" y1="1507.4" x2="266.2" y2="1507.4" stroke="#000" stroke-width="1.6" stroke-dasharray="2.6 2.8"/>
<line x1="370.3" y1="1507.1" x2="635.9" y2="1507.1" stroke="#000" stroke-width="1.6" stroke-dasharray="2.6 2.8"/>
<polyline points="16.7,1504.7 22,1506 28,1505 34,1507 39,1506 45,1507 50.5,1508" fill="none" stroke="#000" stroke-width="1.6" stroke-linejoin="round"/>
<line x1="61.6" y1="1371" x2="61.6" y2="1421" stroke="#000" stroke-width="1.5"/>
<line x1="72.7" y1="1300.8" x2="72.7" y2="1389.4" stroke="#000" stroke-width="1.5"/>
<line x1="83.8" y1="1320.8" x2="83.8" y2="1404.4" stroke="#000" stroke-width="1.5"/>
<line x1="94.9" y1="1361" x2="94.9" y2="1427.8" stroke="#000" stroke-width="1.5"/>
<line x1="106" y1="1394.4" x2="106" y2="1441.2" stroke="#000" stroke-width="1.5"/>
<line x1="117.1" y1="1417.8" x2="117.1" y2="1457.9" stroke="#000" stroke-width="1.5"/>
<line x1="128.2" y1="1439.5" x2="128.2" y2="1469.6" stroke="#000" stroke-width="1.5"/>
<line x1="61.6" y1="1421" x2="61.6" y2="1450" stroke="#808285" stroke-width="1.5"/>
<line x1="72.7" y1="1389.4" x2="72.7" y2="1436.2" stroke="#808285" stroke-width="1.5"/>
<line x1="83.8" y1="1404.4" x2="83.8" y2="1446" stroke="#808285" stroke-width="1.5"/>
<line x1="94.9" y1="1427.8" x2="94.9" y2="1463" stroke="#808285" stroke-width="1.5"/>
<line x1="106" y1="1458" x2="106" y2="1475" stroke="#808285" stroke-width="1.5"/>
<line x1="117.1" y1="1470" x2="117.1" y2="1483" stroke="#808285" stroke-width="1.5"/>
<line x1="128.2" y1="1476" x2="128.2" y2="1488" stroke="#808285" stroke-width="1.5"/>
<line x1="61.6" y1="1485" x2="61.6" y2="1491" stroke="#a7a9ac" stroke-width="1.5"/>
<line x1="72.7" y1="1486" x2="72.7" y2="1493" stroke="#a7a9ac" stroke-width="1.5"/>
<line x1="83.8" y1="1490" x2="83.8" y2="1496" stroke="#a7a9ac" stroke-width="1.5"/>
<line x1="94.9" y1="1496" x2="94.9" y2="1501" stroke="#a7a9ac" stroke-width="1.5"/>
<line x1="106" y1="1498" x2="106" y2="1503" stroke="#a7a9ac" stroke-width="1.5"/>
<line x1="117.1" y1="1500" x2="117.1" y2="1505" stroke="#a7a9ac" stroke-width="1.5"/>
<polyline points="50.5,1508 61.6,1488 72.7,1489.7 83.8,1493 94.9,1498.7 106,1500.7 117.1,1503 128.2,1502" fill="none" stroke="#a7a9ac" stroke-width="1.5" stroke-linejoin="round"/>
<polyline points="50.5,1508 61.6,1437.9 72.7,1411.8 83.8,1427.8 94.9,1449.6 106,1468 117.1,1476.3 128.2,1483" fill="none" stroke="#808285" stroke-width="1.5" stroke-linejoin="round"/>
<polyline points="50.5,1508 61.6,1396.1 72.7,1344.9 83.8,1362.6 94.9,1391 106,1417.8 117.1,1436.2 128.2,1453.9" fill="none" stroke="#000" stroke-width="1.5" stroke-linejoin="round"/>
<polyline points="143.8,1504.1 150,1503.5 155,1503 160,1505.5 166,1505 172,1508 177.2,1511.4" fill="none" stroke="#000" stroke-width="1.6" stroke-linejoin="round"/>
<line x1="188.3" y1="1366.4" x2="188.3" y2="1421" stroke="#000" stroke-width="1.5"/>
<line x1="199.4" y1="1279" x2="199.4" y2="1377.7" stroke="#000" stroke-width="1.5"/>
<line x1="210.5" y1="1295" x2="210.5" y2="1393" stroke="#000" stroke-width="1.5"/>
<line x1="221.6" y1="1340.5" x2="221.6" y2="1418.9" stroke="#000" stroke-width="1.5"/>
<line x1="232.7" y1="1377.4" x2="232.7" y2="1437" stroke="#000" stroke-width="1.5"/>
<line x1="243.8" y1="1408.7" x2="243.8" y2="1458" stroke="#000" stroke-width="1.5"/>
<line x1="254.9" y1="1430" x2="254.9" y2="1466" stroke="#000" stroke-width="1.5"/>
<line x1="266" y1="1449.5" x2="266" y2="1472.2" stroke="#000" stroke-width="1.5"/>
<line x1="188.3" y1="1404" x2="188.3" y2="1444" stroke="#808285" stroke-width="1.5"/>
<line x1="199.4" y1="1378" x2="199.4" y2="1413" stroke="#808285" stroke-width="1.5"/>
<line x1="210.5" y1="1393" x2="210.5" y2="1430" stroke="#808285" stroke-width="1.5"/>
<line x1="221.6" y1="1418.9" x2="221.6" y2="1452.6" stroke="#808285" stroke-width="1.5"/>
<line x1="232.7" y1="1436" x2="232.7" y2="1465" stroke="#808285" stroke-width="1.5"/>
<line x1="243.8" y1="1458" x2="243.8" y2="1474.5" stroke="#808285" stroke-width="1.5"/>
<line x1="254.9" y1="1466" x2="254.9" y2="1480.8" stroke="#808285" stroke-width="1.5"/>
<line x1="266" y1="1472.2" x2="266" y2="1487" stroke="#808285" stroke-width="1.5"/>
<line x1="188.3" y1="1482" x2="188.3" y2="1490" stroke="#a7a9ac" stroke-width="1.5"/>
<line x1="199.4" y1="1483" x2="199.4" y2="1491" stroke="#a7a9ac" stroke-width="1.5"/>
<line x1="210.5" y1="1489" x2="210.5" y2="1496" stroke="#a7a9ac" stroke-width="1.5"/>
<line x1="221.6" y1="1493" x2="221.6" y2="1499" stroke="#a7a9ac" stroke-width="1.5"/>
<line x1="232.7" y1="1496" x2="232.7" y2="1501" stroke="#a7a9ac" stroke-width="1.5"/>
<polyline points="177.2,1511.4 188.3,1486.3 199.4,1487 210.5,1492.6 221.6,1496.5 232.7,1498.7 243.8,1501.4 254.9,1503 266,1504.3" fill="none" stroke="#a7a9ac" stroke-width="1.5" stroke-linejoin="round"/>
<polyline points="177.2,1511.4 188.3,1425 199.4,1387.7 210.5,1401.7 221.6,1428.3 232.7,1447.1 243.8,1460.4 254.9,1470.6 266,1479.2" fill="none" stroke="#808285" stroke-width="1.5" stroke-linejoin="round"/>
<polyline points="177.2,1511.4 188.3,1394 199.4,1328.2 210.5,1343.7 221.6,1378.9 232.7,1407.1 243.8,1431.4 254.9,1448.7 266,1462" fill="none" stroke="#000" stroke-width="1.5" stroke-linejoin="round"/>
<line x1="219" y1="1351.9" x2="279.2" y2="1351.9" stroke="#000" stroke-width="1.5"/>
<line x1="204" y1="1395.1" x2="277.5" y2="1395.1" stroke="#808285" stroke-width="1.5"/>
<line x1="199.9" y1="1484.7" x2="277.5" y2="1437.9" stroke="#a7a9ac" stroke-width="1.5"/>
<text x="329.7" y="1366" text-anchor="end">3.0</text>
<text x="329.7" y="1404.4" text-anchor="end">2.0</text>
<text x="329.7" y="1446" text-anchor="end">1.0</text>
<line x1="338.5" y1="1352.4" x2="388.6" y2="1321.7" stroke="#000" stroke-width="1.5"/>
<line x1="338.5" y1="1391.8" x2="387" y2="1385.8" stroke="#808285" stroke-width="1.5"/>
<line x1="338.5" y1="1441.9" x2="387" y2="1465.3" stroke="#a7a9ac" stroke-width="1.5"/>
<text x="272.3" y="1284.3">[Ca<tspan font-size="21.46" dy="-11.89">2+</tspan><tspan dx="1.02" dy="11.89">]</tspan><tspan font-size="20.88" dy="8.7">o</tspan></text>
<text x="272.3" y="1317.5">(mM)</text>
<polyline points="336.8,1506.1 348,1506.8 359,1506.5 370.3,1506.1" fill="none" stroke="#000" stroke-width="1.6" stroke-linejoin="round"/>
<line x1="392.6" y1="1260.5" x2="392.6" y2="1340.7" stroke="#000" stroke-width="1.5"/>
<line x1="404" y1="1225.4" x2="404" y2="1317.3" stroke="#000" stroke-width="1.5"/>
<line x1="415.2" y1="1233.1" x2="415.2" y2="1327.3" stroke="#000" stroke-width="1.5"/>
<line x1="426.3" y1="1260.5" x2="426.3" y2="1350" stroke="#000" stroke-width="1.5"/>
<line x1="437.4" y1="1297" x2="437.4" y2="1370" stroke="#000" stroke-width="1.5"/>
<line x1="448.6" y1="1332" x2="448.6" y2="1394" stroke="#000" stroke-width="1.5"/>
<line x1="459.7" y1="1364" x2="459.7" y2="1414" stroke="#000" stroke-width="1.5"/>
<line x1="470.7" y1="1392" x2="470.7" y2="1432.6" stroke="#000" stroke-width="1.5"/>
<line x1="392.6" y1="1340.7" x2="392.6" y2="1390" stroke="#808285" stroke-width="1.5"/>
<line x1="404" y1="1325" x2="404" y2="1382" stroke="#808285" stroke-width="1.5"/>
<line x1="415.2" y1="1342" x2="415.2" y2="1396" stroke="#808285" stroke-width="1.5"/>
<line x1="426.3" y1="1362" x2="426.3" y2="1413" stroke="#808285" stroke-width="1.5"/>
<line x1="437.4" y1="1385" x2="437.4" y2="1430" stroke="#808285" stroke-width="1.5"/>
<line x1="448.6" y1="1407" x2="448.6" y2="1448" stroke="#808285" stroke-width="1.5"/>
<line x1="459.7" y1="1424" x2="459.7" y2="1461" stroke="#808285" stroke-width="1.5"/>
<line x1="470.7" y1="1440" x2="470.7" y2="1466" stroke="#808285" stroke-width="1.5"/>
<line x1="392.6" y1="1444" x2="392.6" y2="1468" stroke="#a7a9ac" stroke-width="1.5"/>
<line x1="404" y1="1448" x2="404" y2="1472" stroke="#a7a9ac" stroke-width="1.5"/>
<line x1="415.2" y1="1460" x2="415.2" y2="1482" stroke="#a7a9ac" stroke-width="1.5"/>
<line x1="426.3" y1="1470" x2="426.3" y2="1489" stroke="#a7a9ac" stroke-width="1.5"/>
<line x1="437.4" y1="1479" x2="437.4" y2="1493" stroke="#a7a9ac" stroke-width="1.5"/>
<line x1="448.6" y1="1485" x2="448.6" y2="1497" stroke="#a7a9ac" stroke-width="1.5"/>
<line x1="459.7" y1="1489" x2="459.7" y2="1500" stroke="#a7a9ac" stroke-width="1.5"/>
<line x1="470.7" y1="1492" x2="470.7" y2="1500" stroke="#a7a9ac" stroke-width="1.5"/>
<polyline points="370.3,1506 381.4,1474.3 392.6,1456 404,1460.3 415.2,1471 426.3,1479.4 437.4,1486 448.6,1491 459.7,1494.4 470.7,1496.1" fill="none" stroke="#a7a9ac" stroke-width="1.5" stroke-linejoin="round"/>
<polyline points="370.3,1506 381.4,1436 392.6,1365.8 404,1354.1 415.2,1369.1 426.3,1387.5 437.4,1407.5 448.6,1427.6 459.7,1442.6 470.7,1456" fill="none" stroke="#808285" stroke-width="1.5" stroke-linejoin="round"/>
<polyline points="370.3,1506 381.4,1402.5 392.6,1298.9 404,1272.2 415.2,1280.6 426.3,1304 437.4,1334 448.6,1362.4 459.7,1387.5 470.7,1412.5" fill="none" stroke="#000" stroke-width="1.5" stroke-linejoin="round"/>
<line x1="531.6" y1="1368.5" x2="531.6" y2="1411.8" stroke="#000" stroke-width="1.5"/>
<line x1="542.7" y1="1167" x2="542.7" y2="1273.9" stroke="#000" stroke-width="1.5"/>
<line x1="553.8" y1="1096.1" x2="553.8" y2="1228" stroke="#000" stroke-width="1.5"/>
<line x1="564.9" y1="1078.4" x2="564.9" y2="1222.1" stroke="#000" stroke-width="1.5"/>
<line x1="576" y1="1091.8" x2="576" y2="1235" stroke="#000" stroke-width="1.5"/>
<line x1="587.1" y1="1124" x2="587.1" y2="1260" stroke="#000" stroke-width="1.5"/>
<line x1="598.2" y1="1163.6" x2="598.2" y2="1287" stroke="#000" stroke-width="1.5"/>
<line x1="609.3" y1="1208" x2="609.3" y2="1310" stroke="#000" stroke-width="1.5"/>
<line x1="620.4" y1="1253.8" x2="620.4" y2="1345.8" stroke="#000" stroke-width="1.5"/>
<line x1="631.5" y1="1297.3" x2="631.5" y2="1374" stroke="#000" stroke-width="1.5"/>
<line x1="531.6" y1="1411.8" x2="531.6" y2="1436.6" stroke="#808285" stroke-width="1.5"/>
<line x1="542.7" y1="1278" x2="542.7" y2="1346" stroke="#808285" stroke-width="1.5"/>
<line x1="553.8" y1="1236" x2="553.8" y2="1318" stroke="#808285" stroke-width="1.5"/>
<line x1="564.9" y1="1232" x2="564.9" y2="1321" stroke="#808285" stroke-width="1.5"/>
<line x1="576" y1="1255" x2="576" y2="1339" stroke="#808285" stroke-width="1.5"/>
<line x1="587.1" y1="1283" x2="587.1" y2="1365" stroke="#808285" stroke-width="1.5"/>
<line x1="598.2" y1="1307" x2="598.2" y2="1384" stroke="#808285" stroke-width="1.5"/>
<line x1="609.3" y1="1335" x2="609.3" y2="1405" stroke="#808285" stroke-width="1.5"/>
<line x1="620.4" y1="1361" x2="620.4" y2="1421" stroke="#808285" stroke-width="1.5"/>
<line x1="631.5" y1="1385" x2="631.5" y2="1443" stroke="#808285" stroke-width="1.5"/>
<line x1="531.6" y1="1461.5" x2="531.6" y2="1474.5" stroke="#a7a9ac" stroke-width="1.5"/>
<line x1="542.7" y1="1415" x2="542.7" y2="1450" stroke="#a7a9ac" stroke-width="1.5"/>
<line x1="553.8" y1="1413" x2="553.8" y2="1449" stroke="#a7a9ac" stroke-width="1.5"/>
<line x1="564.9" y1="1420" x2="564.9" y2="1458" stroke="#a7a9ac" stroke-width="1.5"/>
<line x1="576" y1="1437" x2="576" y2="1468" stroke="#a7a9ac" stroke-width="1.5"/>
<line x1="587.1" y1="1450" x2="587.1" y2="1478" stroke="#a7a9ac" stroke-width="1.5"/>
<line x1="598.2" y1="1462" x2="598.2" y2="1486" stroke="#a7a9ac" stroke-width="1.5"/>
<line x1="609.3" y1="1472" x2="609.3" y2="1490" stroke="#a7a9ac" stroke-width="1.5"/>
<line x1="620.4" y1="1480" x2="620.4" y2="1495" stroke="#a7a9ac" stroke-width="1.5"/>
<line x1="631.5" y1="1485" x2="631.5" y2="1498" stroke="#a7a9ac" stroke-width="1.5"/>
<polyline points="487.2,1506.1 498.3,1509.4 509.4,1507 520.5,1506.1 531.6,1466 542.7,1432.6 553.8,1430.9 564.9,1439.3 576,1452.6 587.1,1464.3 598.2,1474.3 609.3,1481 620.4,1487.7 631.5,1491.7" fill="none" stroke="#a7a9ac" stroke-width="1.5" stroke-linejoin="round"/>
<polyline points="487.2,1506.1 498.3,1509.4 509.4,1507 520.5,1506.1 531.6,1418 542.7,1310.6 553.8,1277.2 564.9,1276.5 576,1297.3 587.1,1324 598.2,1345.7 609.3,1370.8 620.4,1390.8 631.5,1414.2" fill="none" stroke="#808285" stroke-width="1.5" stroke-linejoin="round"/>
<polyline points="487.2,1506.1 498.3,1509.4 509.4,1507 520.5,1506.1 531.6,1362 542.7,1218.8 553.8,1162 564.9,1150.3 576,1163.6 587.1,1192 598.2,1225.4 609.3,1257.2 620.4,1293.9 631.5,1335.7" fill="none" stroke="#000" stroke-width="1.5" stroke-linejoin="round"/>
<line x1="50.8" y1="1531.2" x2="50.8" y2="1549.9" stroke="#00aeef" stroke-width="2.6"/>
<path d="M50.8,1522.2L55.7,1534.2L50.8,1532L45.9,1534.2Z" fill="#00aeef" stroke="none" stroke-width="0"/>
<text x="60.3" y="1548.9" fill="#00aeef">1p</text>
<path d="M174.8,1521.9L169.9,1533.7L173.2,1532.5L173.2,1549.9L179,1549.9L179,1532.5L182.3,1533.7L177.4,1521.9L176.1,1525.4L174.8,1521.9Z" fill="#00aeef" stroke="none" stroke-width="0"/>
<text x="188" y="1548.9" fill="#00aeef">2p 40 ms</text>
<line x1="370.5" y1="1531.2" x2="370.5" y2="1549.9" stroke="#00aeef" stroke-width="2.6"/>
<path d="M370.5,1522.2L375.4,1534.2L370.5,1532L365.6,1534.2Z" fill="#00aeef" stroke="none" stroke-width="0"/>
<text x="379.8" y="1548.9" fill="#00aeef">1p</text>
<path d="M517.5,1522.2L512.5,1533.8L515.9,1532.6L515.9,1549.9L521.7,1549.9L521.7,1532.6L525.1,1533.8L520.1,1522.2L518.8,1525.7L517.5,1522.2Z" fill="#00aeef" stroke="none" stroke-width="0"/>
<text x="533.1" y="1548.9" fill="#00aeef">2p 40 ms</text>
<text x="692.5" y="1088.7" font-size="42" font-weight="bold">h</text>
<path d="M797.6,1457H1151.4" fill="none" stroke="#000" stroke-width="2"/>
<path d="M812.6,1457V1144.2" fill="none" stroke="#000" stroke-width="2"/>
<line x1="797.6" y1="1457" x2="812.6" y2="1457" stroke="#000" stroke-width="2"/>
<text x="787.4" y="1466.4" text-anchor="end">0.0</text>
<line x1="797.6" y1="1378.8" x2="812.6" y2="1378.8" stroke="#000" stroke-width="2"/>
<text x="787.4" y="1388.2" text-anchor="end">0.5</text>
<line x1="797.6" y1="1300.6" x2="812.6" y2="1300.6" stroke="#000" stroke-width="2"/>
<text x="787.4" y="1310" text-anchor="end">1.0</text>
<line x1="797.6" y1="1222.4" x2="812.6" y2="1222.4" stroke="#000" stroke-width="2"/>
<text x="787.4" y="1231.8" text-anchor="end">1.5</text>
<line x1="797.6" y1="1144.2" x2="812.6" y2="1144.2" stroke="#000" stroke-width="2"/>
<text x="787.4" y="1153.6" text-anchor="end">2.0</text>
<line x1="835.4" y1="1457" x2="835.4" y2="1471" stroke="#000" stroke-width="2"/>
<text x="835.4" y="1502.7" text-anchor="middle">1</text>
<line x1="992.4" y1="1457" x2="992.4" y2="1471" stroke="#000" stroke-width="2"/>
<text x="992.4" y="1502.7" text-anchor="middle">2</text>
<line x1="1084.24" y1="1457" x2="1084.24" y2="1471" stroke="#000" stroke-width="2"/>
<text x="1084.24" y="1502.7" text-anchor="middle">3</text>
<line x1="1149.4" y1="1457" x2="1149.4" y2="1471" stroke="#000" stroke-width="2"/>
<text x="1149.4" y="1502.7" text-anchor="middle">4</text>
<text x="908.6" y="1552.9">[Ca<tspan font-size="21.46" dy="-11.89">2+</tspan><tspan dx="1.02" dy="11.89">]</tspan><tspan font-size="20.88" dy="8.7">o</tspan><tspan dy="-8.7"> (mM)</tspan></text>
<text x="0" y="0" text-anchor="middle" transform="translate(717.7,1299.8) rotate(-90)">1p [DA]<tspan font-size="20.88" dy="8.7">o</tspan><tspan dy="-8.7"> (norm.)</tspan></text>
<polyline points="835.4,1416 846.5,1411.5 868.9,1400.3 901.4,1385.6 916.9,1377.1 938.6,1363 954.2,1351.8 973.2,1337.6 981.6,1332.2 1003.5,1314.7 1023.3,1297.4 1033.2,1289.3 1048.8,1275.9 1078.9,1248.1 1095,1233.8 1117.4,1212.3 1125.9,1204.2" fill="none" stroke="#000" stroke-width="1.9" stroke-linejoin="round"/>
<polyline points="835.4,1423 846.5,1417.8 868.9,1406.8 891.7,1394.2 903.9,1386.8 916.9,1378.1 938.6,1364.7 955.4,1354.9 972.7,1344.6 983.6,1337.3 1002.6,1324.7 1009,1320 1026,1309.1 1044.4,1297.4 1074.8,1276.4 1093.7,1264.7 1116.1,1250.8 1125.9,1245" fill="none" stroke="#000" stroke-width="1.9" stroke-linejoin="round"/>
<path d="M1125.9,1186.1V1222.1M1115.4,1186.1H1136.4M1115.4,1222.1H1136.4" fill="none" stroke="#000" stroke-width="1.9"/>
<circle cx="835.7" cy="1427.9" r="11" fill="#000"/>
<circle cx="927.5" cy="1362.8" r="11" fill="#000"/>
<circle cx="992.6" cy="1318" r="11" fill="#000"/>
<circle cx="1033.9" cy="1301" r="11" fill="#000"/>
<circle cx="1084.3" cy="1238.7" r="11" fill="#000"/>
<circle cx="1125.9" cy="1204.2" r="11" fill="#000"/>
<circle cx="835.7" cy="1415.3" r="10.1" fill="#fff" stroke="#000" stroke-width="2"/>
<circle cx="927.5" cy="1373.8" r="10.1" fill="#fff" stroke="#000" stroke-width="2"/>
<circle cx="992.6" cy="1331.3" r="10.1" fill="#fff" stroke="#000" stroke-width="2"/>
<circle cx="1033.9" cy="1302.3" r="10.1" fill="#fff" stroke="#000" stroke-width="2"/>
<circle cx="1084.3" cy="1271" r="10.1" fill="#fff" stroke="#000" stroke-width="2"/>
<circle cx="1125.9" cy="1245" r="10.1" fill="#fff" stroke="#000" stroke-width="2"/>
<line x1="866.1" y1="1164.5" x2="921" y2="1164.5" stroke="#000" stroke-width="1.9"/>
<circle cx="893.3" cy="1164.5" r="11" fill="#000"/>
<text x="927.8" y="1173" font-size="25">CPu</text>
<line x1="866.1" y1="1217" x2="921" y2="1217" stroke="#000" stroke-width="1.9"/>
<circle cx="893.3" cy="1217" r="10.1" fill="#fff" stroke="#000" stroke-width="2"/>
<text x="928.1" y="1225.1" font-size="25">NAc</text>
<path d="M1137.1,1165.3C1146,1165.3 1149.4,1170 1149.4,1178V1254C1149.4,1262 1146,1267.2 1137.1,1267.2" fill="none" stroke="#000" stroke-width="1.6"/>
<text x="1160" y="1222.5">***</text>
<text x="1231.4" y="1089.5" font-size="42" font-weight="bold">i</text>
<text x="1402.4" y="1137.8" fill="#00aeef">40 ms IPI</text>
<path d="M1347.7,1458.4H1701.3" fill="none" stroke="#000" stroke-width="2"/>
<path d="M1362.1,1458.4V1146.3" fill="none" stroke="#000" stroke-width="2"/>
<line x1="1347.7" y1="1458.4" x2="1362.1" y2="1458.4" stroke="#000" stroke-width="2"/>
<text x="1334.9" y="1467.8" text-anchor="end">0.00</text>
<line x1="1347.7" y1="1380.38" x2="1362.1" y2="1380.38" stroke="#000" stroke-width="2"/>
<text x="1334.9" y="1389.78" text-anchor="end">0.25</text>
<line x1="1347.7" y1="1302.35" x2="1362.1" y2="1302.35" stroke="#000" stroke-width="2"/>
<text x="1334.9" y="1311.75" text-anchor="end">0.50</text>
<line x1="1347.7" y1="1224.33" x2="1362.1" y2="1224.33" stroke="#000" stroke-width="2"/>
<text x="1334.9" y="1233.73" text-anchor="end">0.75</text>
<line x1="1347.7" y1="1146.3" x2="1362.1" y2="1146.3" stroke="#000" stroke-width="2"/>
<text x="1334.9" y="1155.7" text-anchor="end">1.00</text>
<line x1="1362.1" y1="1458.4" x2="1362.1" y2="1472.8" stroke="#000" stroke-width="2"/>
<text x="1362.1" y="1504.6" text-anchor="middle">0.0</text>
<line x1="1446.5" y1="1458.4" x2="1446.5" y2="1472.8" stroke="#000" stroke-width="2"/>
<text x="1446.5" y="1504.6" text-anchor="middle">0.5</text>
<line x1="1530.9" y1="1458.4" x2="1530.9" y2="1472.8" stroke="#000" stroke-width="2"/>
<text x="1530.9" y="1504.6" text-anchor="middle">1.0</text>
<line x1="1615.3" y1="1458.4" x2="1615.3" y2="1472.8" stroke="#000" stroke-width="2"/>
<text x="1615.3" y="1504.6" text-anchor="middle">1.5</text>
<line x1="1699.7" y1="1458.4" x2="1699.7" y2="1472.8" stroke="#000" stroke-width="2"/>
<text x="1699.7" y="1504.6" text-anchor="middle">2.0</text>
<text x="1424" y="1546.3">1p [DA]<tspan font-size="20.88" dy="8.7">o</tspan><tspan dy="-8.7"> (norm.)</tspan></text>
<text x="0" y="0" text-anchor="middle" transform="translate(1258,1304) rotate(-90)">P2/P1</text>
<text x="1401" y="1224.8">NAc</text>
<text x="1534.5" y="1377.6">CPu</text>
<line x1="1407.2" y1="1267.3" x2="1591" y2="1278" stroke="#000" stroke-width="1.6"/>
<path d="M1407.2,1244.5V1281.3M1396.7,1244.5H1417.7M1396.7,1281.3H1417.7" fill="none" stroke="#000" stroke-width="1.8"/>
<path d="M1451.6,1256.2V1286.7M1441.1,1256.2H1462.1M1441.1,1286.7H1462.1" fill="none" stroke="#000" stroke-width="1.8"/>
<path d="M1441.3,1271.3H1462.3M1441.3,1261.6V1281M1462.3,1261.6V1281" fill="none" stroke="#000" stroke-width="1.8"/>
<path d="M1498.4,1264.6V1285.7M1487.9,1264.6H1508.9M1487.9,1285.7H1508.9" fill="none" stroke="#000" stroke-width="1.8"/>
<path d="M1529.2,1264V1292.3M1518.7,1264H1539.7M1518.7,1292.3H1539.7" fill="none" stroke="#000" stroke-width="1.8"/>
<path d="M1562.6,1265.6V1300.7M1552.1,1265.6H1573.1M1552.1,1300.7H1573.1" fill="none" stroke="#000" stroke-width="1.8"/>
<path d="M1552.6,1283.3H1572.6M1552.6,1273.6V1293M1572.6,1273.6V1293" fill="none" stroke="#000" stroke-width="1.8"/>
<path d="M1591,1253.9V1281.3M1580.5,1253.9H1601.5M1580.5,1281.3H1601.5" fill="none" stroke="#000" stroke-width="1.8"/>
<circle cx="1407.2" cy="1263.3" r="10.3" fill="#fff" stroke="#000" stroke-width="1.8"/>
<circle cx="1451.6" cy="1271.3" r="10.3" fill="#fff" stroke="#000" stroke-width="1.8"/>
<circle cx="1498.4" cy="1275.6" r="10.3" fill="#fff" stroke="#000" stroke-width="1.8"/>
<circle cx="1529.2" cy="1278" r="10.3" fill="#fff" stroke="#000" stroke-width="1.8"/>
<circle cx="1562.6" cy="1283.3" r="10.3" fill="#fff" stroke="#000" stroke-width="1.8"/>
<circle cx="1591" cy="1268.3" r="10.3" fill="#fff" stroke="#000" stroke-width="1.8"/>
<line x1="1393.8" y1="1410.3" x2="1635.1" y2="1413" stroke="#000" stroke-width="1.6"/>
<path d="M1393.8,1370.2V1442.1M1383.3,1370.2H1404.3M1383.3,1442.1H1404.3" fill="none" stroke="#000" stroke-width="1.8"/>
<path d="M1461.7,1400.3V1438.4M1451.2,1400.3H1472.2M1451.2,1438.4H1472.2" fill="none" stroke="#000" stroke-width="1.8"/>
<path d="M1453.4,1419.3H1470.3M1453.4,1409.6V1429M1470.3,1409.6V1429" fill="none" stroke="#000" stroke-width="1.8"/>
<path d="M1511.8,1390.3V1417M1501.3,1390.3H1522.3M1501.3,1417H1522.3" fill="none" stroke="#000" stroke-width="1.8"/>
<path d="M1501.5,1402.6H1523.4M1501.5,1392.9V1412.3M1523.4,1392.9V1412.3" fill="none" stroke="#000" stroke-width="1.8"/>
<path d="M1588.5,1428.4H1605.2M1588.5,1418.7V1438.1M1605.2,1418.7V1438.1" fill="none" stroke="#000" stroke-width="1.8"/>
<path d="M1615.1,1400.3H1655.5M1615.1,1390.6V1410M1655.5,1390.6V1410" fill="none" stroke="#000" stroke-width="1.8"/>
<circle cx="1393.8" cy="1406" r="10.8" fill="#000"/>
<circle cx="1461.7" cy="1419.3" r="10.8" fill="#000"/>
<circle cx="1511.8" cy="1402.6" r="10.8" fill="#000"/>
<circle cx="1530.2" cy="1417" r="10.8" fill="#000"/>
<circle cx="1597.7" cy="1428.4" r="10.8" fill="#000"/>
<circle cx="1635.1" cy="1400.3" r="10.8" fill="#000"/>
</svg>
</body></html>
